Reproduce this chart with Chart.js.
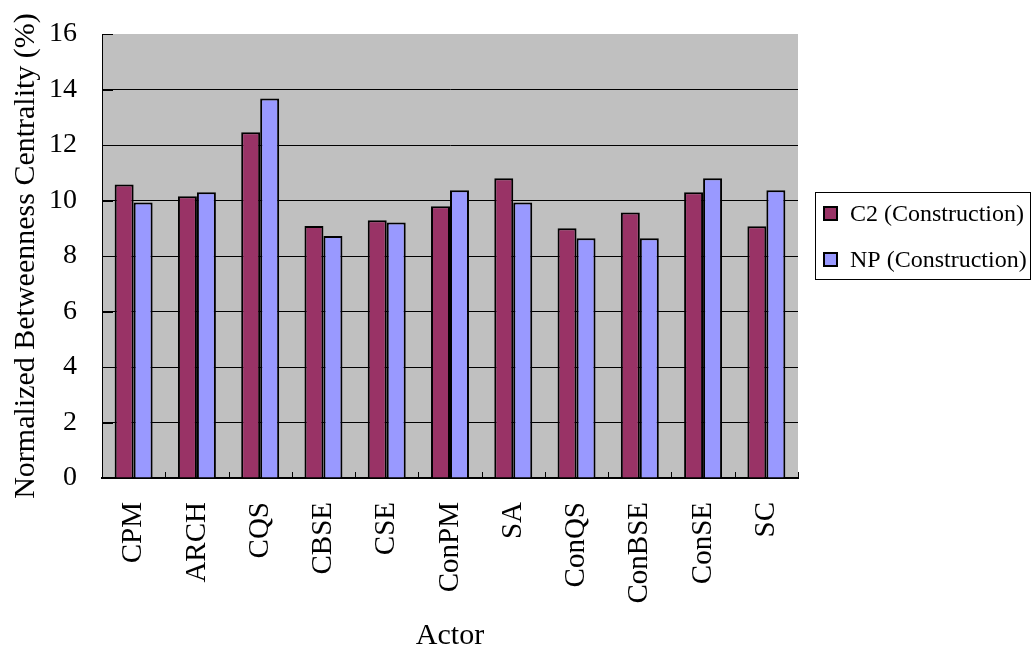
<!DOCTYPE html>
<html>
<head>
<meta charset="utf-8">
<script src="https://cdn.jsdelivr.net/npm/chart.js@4"></script>
<style>
  html, body { margin: 0; padding: 0; background: #fff; }
  #wrap { width: 1032px; height: 655px; }
</style>
</head>
<body>
<div id="wrap"><canvas id="chart" width="1032" height="655"></canvas></div>
<script>
// Actors and their normalized betweenness centrality (%)
const actors = ['CPM', 'ARCH', 'CQS', 'CBSE', 'CSE', 'ConPM', 'SA', 'ConQS', 'ConBSE', 'ConSE', 'SC'];
const c2Values = [10.58, 10.15, 12.46, 9.08, 9.29, 9.79, 10.80, 9.00, 9.57, 10.30, 9.07];
const npValues = [9.93, 10.30, 13.68, 8.72, 9.21, 10.37, 9.93, 8.64, 8.64, 10.80, 10.37];
const seriesNames = ['C2 (Construction)', 'NP (Construction)'];
const yTickValues = [0, 2, 4, 6, 8, 10, 12, 14, 16];

const SERIF = '"Liberation Serif", "Times New Roman", serif';
const colors = ['#993366', '#9999FF'];

// Grey plot background
const plotBackground = {
  id: 'plotBackground',
  beforeDraw(chart) {
    const { ctx, chartArea: a } = chart;
    ctx.save();
    ctx.fillStyle = '#C0C0C0';
    ctx.fillRect(a.left, a.top, a.right - a.left, a.bottom - a.top);
    ctx.restore();
  }
};

// Short tick marks pointing into the plot
const innerTicks = {
  id: 'innerTicks',
  afterDraw(chart) {
    const { ctx, chartArea: a, scales } = chart;
    const x = scales.x, y = scales.y;
    ctx.save();
    ctx.strokeStyle = '#000';
    ctx.lineWidth = 1;
    ctx.beginPath();
    const n = x.ticks.length;
    const step = n > 1 ? x.getPixelForTick(1) - x.getPixelForTick(0) : (a.right - a.left);
    for (let i = 0; i <= n; i++) {
      const px = Math.round(x.getPixelForTick(0) - step / 2 + i * step) + 0.5;
      ctx.moveTo(px, a.bottom);
      ctx.lineTo(px, a.bottom - 6);
    }
    y.ticks.forEach(t => {
      const py = Math.round(y.getPixelForValue(t.value)) + 0.5;
      ctx.moveTo(a.left, py);
      ctx.lineTo(a.left + 11, py);
    });
    ctx.stroke();
    ctx.restore();
  }
};

// Boxed legend to the right of the plot
const boxedLegend = {
  id: 'boxedLegend',
  afterDraw(chart) {
    const { ctx, chartArea: a } = chart;
    const left = a.right + 17, top = a.top + 158, w = 215, h = 87;
    ctx.save();
    ctx.fillStyle = '#fff';
    ctx.fillRect(left, top, w, h);
    ctx.strokeStyle = '#000';
    ctx.lineWidth = 1;
    ctx.strokeRect(left + 0.5, top + 0.5, w, h);
    ctx.font = '24px ' + SERIF;
    ctx.textBaseline = 'middle';
    chart.data.datasets.forEach((ds, i) => {
      const cy = top + 22 + i * 46;
      ctx.fillStyle = ds.backgroundColor;
      ctx.fillRect(left + 9, cy - 7, 13, 13);
      ctx.lineWidth = 2;
      ctx.strokeRect(left + 9, cy - 7, 13, 13);
      ctx.fillStyle = '#000';
      ctx.fillText(ds.label, left + 35, cy + 1);
    });
    ctx.restore();
  }
};

new Chart(document.getElementById('chart'), {
  type: 'bar',
  data: {
    labels: actors,
    datasets: [
      { label: seriesNames[0], data: c2Values, backgroundColor: colors[0] },
      { label: seriesNames[1], data: npValues, backgroundColor: colors[1] }
    ]
  },
  options: {
    responsive: false,
    animation: false,
    devicePixelRatio: 1,
    layout: { padding: { top: 34, right: 234, bottom: 0, left: 0 } },
    datasets: {
      bar: {
        categoryPercentage: 0.6,
        barPercentage: 1.0,
        borderColor: '#000',
        borderWidth: 2
      }
    },
    plugins: {
      legend: { display: false },
      tooltip: { enabled: false }
    },
    scales: {
      x: {
        grid: { display: false, drawTicks: false },
        border: { display: true, color: '#000', width: 2 },
        ticks: {
          color: '#000',
          font: { family: SERIF, size: 29 },
          minRotation: 90,
          maxRotation: 90,
          padding: 24,
          autoSkip: false
        },
        title: {
          display: true,
          text: 'Actor',
          color: '#000',
          font: { family: SERIF, size: 30 },
          padding: { top: 0, bottom: 1 }
        },
        afterFit(scale) { scale.height = 177; }
      },
      y: {
        min: 0,
        max: 16,
        afterBuildTicks(scale) { scale.ticks = yTickValues.map(v => ({ value: v })); },
        grid: {
          drawTicks: false,
          color: ctx => (ctx.tick && ctx.tick.value === 16) ? 'rgba(0,0,0,0)' : '#000',
          lineWidth: 1
        },
        border: { display: true, color: '#000', width: 1 },
        ticks: {
          color: '#000',
          font: { family: SERIF, size: 28 },
          padding: 25
        },
        title: {
          display: true,
          text: 'Normalized Betweenness Centrality (%)',
          color: '#000',
          font: { family: SERIF, size: 30 },
          padding: { top: 8, bottom: 0 }
        },
        afterFit(scale) {
          scale.width = 102;
          scale.paddingTop = 0;
          scale.paddingBottom = 0;
        }
      }
    }
  },
  plugins: [plotBackground, innerTicks, boxedLegend]
});
</script>
</body>
</html>
